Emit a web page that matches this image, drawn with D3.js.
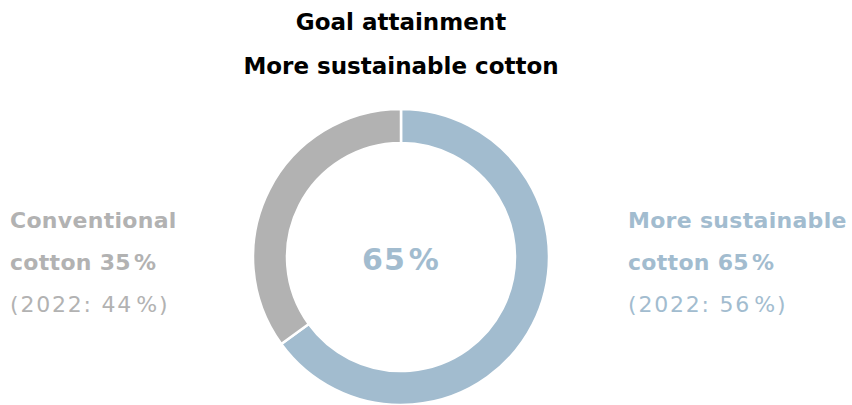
<!DOCTYPE html>
<meta charset="utf-8">
<html>
<head>
<script src="https://d3js.org/d3.v7.min.js"></script>
<style>
  body { margin: 0; background: #fff; }
  text { font-family: "DejaVu Sans", sans-serif; }
</style>
</head>
<body>
<div id="chart"></div>
<script>
// data
var categories = ["More sustainable cotton", "Conventional cotton"];
var shares = [65, 35];
var shares2022 = [56, 44];
var colors = ["#a2bccf", "#b2b2b2"];
var titleLines = ["Goal attainment", "More sustainable cotton"];

var width = 852, height = 405;
var cx = 401, cy = 257, outerR = 148, innerR = 114;

var svg = d3.select("#chart").append("svg")
  .attr("width", width)
  .attr("height", height);

// title
svg.append("g").selectAll("text")
  .data(titleLines)
  .enter().append("text")
  .attr("x", cx)
  .attr("y", function(d, i) { return 30 + i * 44; })
  .attr("text-anchor", "middle")
  .attr("font-size", "23px")
  .attr("font-weight", "bold")
  .attr("fill", "#000")
  .text(function(d) { return d; });

// donut
var pie = d3.pie().sort(null).value(function(d) { return d; });
var arc = d3.arc().innerRadius(innerR).outerRadius(outerR);

var g = svg.append("g").attr("transform", "translate(" + cx + "," + cy + ")");
g.selectAll("path")
  .data(pie(shares))
  .enter().append("path")
  .attr("d", arc)
  .attr("fill", function(d, i) { return colors[i]; })
  .attr("stroke", "#fff")
  .attr("stroke-width", 2.5);

// percentage with a small gap before the % sign
function pct(sel, v) {
  sel.append("tspan").text(v);
  sel.append("tspan").attr("dx", 3).text("%");
}

var center = g.append("text")
  .attr("x", 0)
  .attr("y", 13)
  .attr("text-anchor", "middle")
  .attr("font-size", "30px")
  .attr("font-weight", "bold")
  .attr("letter-spacing", 1)
  .attr("fill", colors[0]);
pct(center, shares[0]);

// labels
function label(x, idx, first, second) {
  var t = svg.append("g").attr("fill", colors[idx]).attr("font-size", "22px");
  t.append("text").attr("x", x).attr("y", 228)
    .attr("font-weight", "bold").attr("letter-spacing", 0.3)
    .text(first);
  var l2 = t.append("text").attr("x", x).attr("y", 270)
    .attr("font-weight", "bold").attr("letter-spacing", 0.3);
  l2.append("tspan").text(second + " ");
  pct(l2, shares[idx]);
  var l3 = t.append("text").attr("x", x).attr("y", 312)
    .attr("letter-spacing", 1.8);
  l3.append("tspan").text("(2022: " + shares2022[idx]);
  l3.append("tspan").attr("dx", 3).text("%)");
}
label(628, 0, "More sustainable", "cotton");
label(10, 1, "Conventional", "cotton");
</script>
</body>
</html>
